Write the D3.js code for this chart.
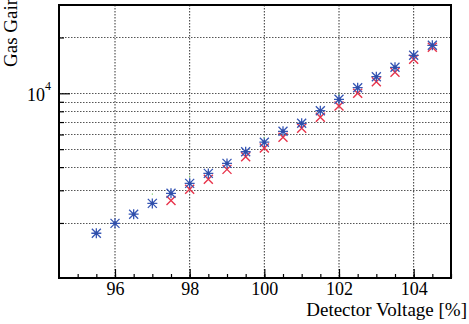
<!DOCTYPE html>
<html lang="en">
<head>
  <meta charset="utf-8">
  <script src="https://d3js.org/d3.v7.min.js"></script>
  <style>
    body { margin: 0; background: #fff; }
    text { font-family: "Liberation Serif", "Times New Roman", serif; fill: #000; }
  </style>
</head>
<body>
  <script>
    // detector voltage [%]
    const voltage = [95.5, 96, 96.5, 97, 97.5, 98, 98.5, 99, 99.5, 100,
                     100.5, 101, 101.5, 102, 102.5, 103, 103.5, 104, 104.5];
    // gas gain, blue stars
    const gainBlue = [1760, 1990, 2230, 2550, 2890, 3270, 3700, 4190, 4840, 5450,
                      6240, 6890, 8060, 9280, 10720, 12290, 13810, 16030, 18150];
    // gas gain, red crosses (from 97.5 %)
    const voltageRed = [97.5, 98, 98.5, 99, 99.5, 100, 100.5, 101, 101.5, 102,
                        102.5, 103, 103.5, 104, 104.5];
    const gainRed = [2640, 3040, 3440, 3890, 4550, 5070, 5790, 6480, 7430, 8540,
                     10000, 11550, 12980, 15250, 17700];
    // small green points
    const voltageGreen = [97, 98, 100, 102];
    const gainGreen = [2870, 3580, 5790, 9910];

    const xMajor = [96, 98, 100, 102, 104];
    const xMinor = d3.range(95, 105.01, 0.5);
    const yTicks = [2000, 3000, 4000, 5000, 6000, 7000, 8000, 9000, 10000, 20000];

    const width = 469, height = 324;
    const mLeft = 59, mRight = 451, mTop = 5, mBottom = 278;

    const svg = d3.select("body").append("svg")
      .attr("width", width)
      .attr("height", height);

    const x = d3.scaleLinear().domain([94.5, 105]).range([mLeft, mRight]);
    const y = d3.scaleLog().domain([1010, 29930]).range([mBottom, mTop]);

    // grid
    svg.append("g").selectAll("line")
      .data(xMajor)
      .enter().append("line")
      .attr("x1", d => x(d)).attr("x2", d => x(d))
      .attr("y1", mTop).attr("y2", mBottom)
      .attr("stroke", "#333").attr("stroke-width", 1)
      .attr("stroke-dasharray", "1.5,1.5");

    svg.append("g").selectAll("line")
      .data(yTicks)
      .enter().append("line")
      .attr("x1", mLeft).attr("x2", mRight)
      .attr("y1", d => Math.round(y(d)) + 0.5).attr("y2", d => Math.round(y(d)) + 0.5)
      .attr("stroke", "#555").attr("stroke-width", 1)
      .attr("stroke-dasharray", "1.5,1.5");

    // x axis: minor then major ticks, pointing inwards
    const xMinorAxis = svg.append("g")
      .attr("transform", "translate(0," + mBottom + ")")
      .call(d3.axisBottom(x).tickValues(xMinor).tickSize(-4).tickSizeOuter(0).tickFormat(""));
    xMinorAxis.select(".domain").remove();

    const xAxis = svg.append("g")
      .attr("transform", "translate(0," + mBottom + ")")
      .call(d3.axisBottom(x).tickValues(xMajor).tickSize(-9).tickSizeOuter(0).tickPadding(4));
    xAxis.select(".domain").remove();
    xAxis.selectAll("text")
      .attr("font-family", "Liberation Serif")
      .attr("font-size", "18px");
    xAxis.selectAll("line").attr("stroke-width", 1.2);
    xMinorAxis.selectAll("line").attr("stroke-width", 1.2);

    // y axis
    const yAxis = svg.append("g")
      .attr("transform", "translate(" + mLeft + ",0)")
      .call(d3.axisLeft(y).tickValues(yTicks.filter(d => d !== 10000))
        .tickSize(-5).tickSizeOuter(0).tickFormat(""));
    yAxis.select(".domain").remove();
    yAxis.selectAll("line").attr("stroke-width", 1.2);

    const yMajorAxis = svg.append("g")
      .attr("transform", "translate(" + mLeft + ",0)")
      .call(d3.axisLeft(y).tickValues([10000]).tickSize(-11).tickSizeOuter(0).tickFormat(""));
    yMajorAxis.select(".domain").remove();
    yMajorAxis.selectAll("line").attr("stroke-width", 1.2);

    const lab = svg.append("text")
      .attr("x", 51)
      .attr("y", y(10000) + 7.7)
      .attr("text-anchor", "end")
      .attr("font-size", "18px");
    lab.append("tspan").text("10");
    lab.append("tspan").attr("font-size", "12px").attr("dy", -11).text("4");

    // frame
    svg.append("rect")
      .attr("x", mLeft).attr("y", mTop)
      .attr("width", mRight - mLeft).attr("height", mBottom - mTop)
      .attr("fill", "none")
      .attr("stroke", "#000").attr("stroke-width", 2);

    // titles
    svg.append("text")
      .attr("x", 467).attr("y", 316)
      .attr("text-anchor", "end")
      .attr("font-size", "19px")
      .text("Detector Voltage [%]");

    svg.append("text")
      .attr("transform", "translate(17,67) rotate(-90)")
      .attr("text-anchor", "start")
      .attr("font-size", "19px")
      .text("Gas Gain");

    // markers
    const s = 4.5;
    const red = svg.append("g").selectAll("g")
      .data(voltageRed)
      .enter().append("g")
      .attr("transform", (d, i) => "translate(" + x(d) + "," + y(gainRed[i]) + ")");
    red.append("path")
      .attr("d", "M" + (-s) + "," + (-s) + "L" + s + "," + s + "M" + (-s) + "," + s + "L" + s + "," + (-s))
      .attr("stroke", "#e8334a").attr("stroke-width", 1.4).attr("fill", "none");

    const blue = svg.append("g").selectAll("g")
      .data(voltage)
      .enter().append("g")
      .attr("transform", (d, i) => "translate(" + x(d) + "," + y(gainBlue[i]) + ")");
    blue.append("path")
      .attr("d", "M" + (-s) + "," + (-s) + "L" + s + "," + s + "M" + (-s) + "," + s + "L" + s + "," + (-s) +
        "M" + (-s - 0.5) + ",0L" + (s + 0.5) + ",0M0," + (-s - 0.5) + "L0," + (s + 0.5))
      .attr("stroke", "#3656b4").attr("stroke-width", 1.3).attr("fill", "none");
    blue.append("circle")
      .attr("r", 1.8).attr("fill", "#2f4ea8");

    svg.append("g").selectAll("rect")
      .data(voltageGreen)
      .enter().append("rect")
      .attr("x", d => x(d) - 0.5)
      .attr("y", (d, i) => y(gainGreen[i]) - 0.5)
      .attr("width", 1).attr("height", 1.5)
      .attr("fill", "#7ccf6a");
  </script>
</body>
</html>
